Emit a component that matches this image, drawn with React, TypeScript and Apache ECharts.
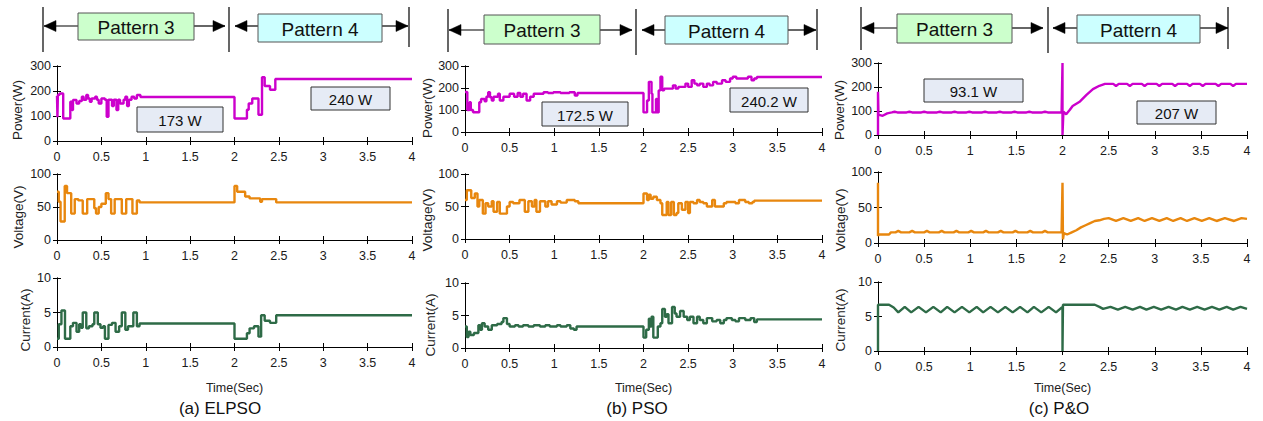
import React, { useEffect, useRef } from "react";
import * as echarts from "echarts";

type P = [number, number];

// ---------- (a) ELPSO ----------
const elpsoPower: P[] = [
  [0, 180], [0.005, 95], [0.01, 185], [0.03, 190], [0.07, 90], [0.15, 157], [0.17, 124], [0.18, 164],
  [0.22, 150], [0.25, 160], [0.28, 177], [0.3, 165], [0.33, 184], [0.35, 170], [0.37, 157], [0.39, 170],
  [0.43, 177], [0.45, 165], [0.47, 150], [0.5, 170], [0.54, 165], [0.56, 97], [0.58, 165], [0.62, 140],
  [0.64, 165], [0.67, 124], [0.69, 165], [0.71, 150], [0.75, 165], [0.77, 177], [0.79, 140], [0.81, 165],
  [0.84, 177], [0.87, 170], [0.9, 184], [0.94, 176], [2.0, 90], [2.14, 125], [2.16, 150], [2.2, 170],
  [2.27, 105], [2.31, 255], [2.34, 220], [2.4, 205], [2.46, 248], [4, 248],
];
const elpsoVoltage: P[] = [
  [0, 73], [0.02, 58], [0.04, 28], [0.087, 82], [0.113, 71], [0.16, 40], [0.2, 62], [0.24, 60], [0.29, 40],
  [0.34, 62], [0.42, 48], [0.44, 40], [0.47, 50], [0.5, 55], [0.55, 71], [0.58, 62], [0.61, 40], [0.65, 62],
  [0.73, 40], [0.78, 62], [0.85, 40], [0.9, 60], [0.93, 57], [2.0, 82], [2.03, 73], [2.12, 66], [2.17, 63],
  [2.29, 58], [2.31, 62], [2.47, 57], [4, 57],
];
const elpsoCurrent: P[] = [
  [0, 1.2], [0.02, 3.3], [0.05, 5.3], [0.09, 1.2], [0.15, 3], [0.18, 3.5], [0.22, 2.2], [0.25, 3.3],
  [0.27, 2.8], [0.29, 5], [0.33, 2.7], [0.36, 3], [0.4, 3.3], [0.42, 5], [0.46, 3.3], [0.49, 2.8], [0.52, 3],
  [0.54, 1.2], [0.58, 3.2], [0.62, 3.5], [0.66, 2.2], [0.7, 3], [0.73, 5], [0.77, 2.5], [0.8, 3], [0.86, 5],
  [0.9, 3], [0.93, 3.4], [2.0, 1.2], [2.14, 2], [2.17, 2.7], [2.22, 3], [2.27, 1.5], [2.3, 4.6], [2.34, 3.8],
  [2.4, 3.5], [2.47, 4.6], [4, 4.6],
];

// ---------- (b) PSO ----------
const psoPower: P[] = [
  [0, 182], [0.026, 100], [0.05, 135], [0.065, 100], [0.09, 90], [0.16, 135], [0.18, 150], [0.22, 140],
  [0.24, 160], [0.26, 181], [0.28, 158], [0.3, 143], [0.32, 160], [0.37, 174], [0.39, 143], [0.43, 160],
  [0.5, 174], [0.55, 160], [0.59, 177], [0.62, 160], [0.65, 174], [0.69, 143], [0.73, 160], [0.77, 174],
  [0.83, 174], [0.88, 181], [0.93, 177], [0.99, 181], [1.07, 177], [1.17, 181], [1.23, 166], [1.26, 177],
  [2.0, 89], [2.04, 143], [2.06, 228], [2.09, 174], [2.1, 89], [2.14, 150], [2.15, 89], [2.17, 189],
  [2.19, 251], [2.21, 189], [2.23, 197], [2.33, 212], [2.36, 197], [2.39, 205], [2.43, 205], [2.47, 220],
  [2.5, 205], [2.54, 235], [2.57, 220], [2.6, 212], [2.63, 220], [2.67, 205], [2.71, 220], [2.74, 212],
  [2.78, 228], [2.82, 220], [2.88, 235], [2.92, 228], [2.97, 243], [3.0, 251], [3.04, 243], [3.1, 243],
  [3.17, 251], [3.21, 235], [3.24, 243], [3.27, 250], [4, 250],
];
const psoVoltage: P[] = [
  [0, 60], [0.02, 75], [0.07, 63], [0.11, 70], [0.14, 50], [0.16, 60], [0.2, 39], [0.23, 55], [0.26, 50],
  [0.3, 58], [0.32, 42], [0.36, 57], [0.39, 39], [0.47, 50], [0.5, 57], [0.54, 55], [0.61, 60], [0.67, 42],
  [0.71, 58], [0.75, 50], [0.78, 60], [0.8, 42], [0.84, 58], [0.9, 50], [0.93, 58], [0.97, 53], [1.03, 58],
  [1.07, 56], [1.14, 60], [1.23, 58], [1.27, 55], [2.0, 70], [2.04, 60], [2.06, 68], [2.08, 62], [2.11, 65],
  [2.15, 60], [2.19, 55], [2.21, 37], [2.26, 57], [2.28, 37], [2.31, 57], [2.34, 37], [2.37, 40], [2.39, 55],
  [2.43, 45], [2.47, 57], [2.5, 40], [2.52, 57], [2.56, 55], [2.6, 60], [2.63, 57], [2.67, 55], [2.71, 50],
  [2.77, 60], [2.8, 50], [2.84, 50], [2.9, 55], [2.93, 57], [2.99, 57], [3.03, 55], [3.07, 60], [3.14, 57],
  [3.18, 55], [3.22, 57], [3.24, 59], [4, 59],
];
const psoCurrent: P[] = [
  [0, 3.3], [0.02, 1.7], [0.04, 2.5], [0.06, 2.0], [0.1, 2.3], [0.15, 3.5], [0.17, 2.8], [0.19, 3.8],
  [0.22, 3.3], [0.26, 2.8], [0.3, 3.5], [0.36, 3.7], [0.41, 4.0], [0.43, 4.6], [0.47, 3.7], [0.5, 3.3],
  [0.56, 3.5], [0.6, 3.3], [0.65, 3.5], [0.71, 3.3], [0.77, 3.5], [0.84, 3.3], [0.9, 3.5], [0.95, 3.3],
  [1.03, 3.5], [1.07, 3.3], [1.14, 3.5], [1.18, 3.0], [1.22, 2.8], [1.25, 3.3], [2.0, 1.6], [2.03, 2.8],
  [2.06, 4.5], [2.07, 3.3], [2.09, 4.8], [2.11, 1.6], [2.16, 3.3], [2.19, 3.8], [2.21, 6.0], [2.24, 4.8],
  [2.26, 5.2], [2.28, 3.8], [2.32, 6.3], [2.35, 5.3], [2.37, 4.8], [2.41, 5.7], [2.45, 4.8], [2.49, 4.3],
  [2.52, 4.8], [2.56, 3.8], [2.6, 4.8], [2.63, 4.3], [2.67, 3.8], [2.71, 4.6], [2.77, 4.1], [2.82, 4.3],
  [2.86, 3.8], [2.9, 4.3], [2.93, 4.6], [2.99, 4.3], [3.03, 4.1], [3.07, 4.6], [3.14, 4.3], [3.2, 4.6],
  [3.24, 4.0], [3.27, 4.4], [4, 4.4],
];

// ---------- (c) P&O ----------
const poPower: P[] = [
  [0, 0], [0, 180], [0.005, 85], [0.05, 80], [0.1, 90], [0.15, 94], [0.18, 97], [0.21, 94], [0.31, 94],
  [0.34, 97], [0.37, 94], [0.47, 94], [0.5, 97], [0.53, 94], [0.64, 94], [0.67, 97], [0.7, 94], [0.8, 94],
  [0.83, 97], [0.86, 94], [0.96, 94], [0.99, 97], [1.02, 94], [1.13, 94], [1.16, 97], [1.19, 94], [1.29, 94],
  [1.32, 97], [1.35, 94], [1.45, 94], [1.48, 97], [1.51, 94], [1.61, 94], [1.64, 97], [1.67, 94], [1.78, 94],
  [1.81, 97], [1.84, 94], [1.99, 94], [2.0, 300], [2.0, 0], [2.01, 98], [2.04, 86], [2.08, 105], [2.11, 121],
  [2.19, 140], [2.26, 167], [2.33, 191], [2.4, 205], [2.46, 213], [2.55, 213], [2.58, 204], [2.61, 213],
  [2.7, 213], [2.73, 204], [2.76, 213], [2.86, 213], [2.89, 204], [2.92, 213], [3.02, 213], [3.05, 204],
  [3.08, 213], [3.19, 213], [3.22, 204], [3.25, 213], [3.35, 213], [3.38, 204], [3.41, 213], [3.49, 213],
  [3.52, 204], [3.55, 213], [3.66, 213], [3.69, 204], [3.72, 213], [3.82, 213], [3.85, 204], [3.88, 213],
  [4, 213],
];
const poVoltage: P[] = [
  [0, 85], [0, 10], [0.01, 12], [0.12, 12], [0.14, 15], [0.19, 15], [0.22, 17], [0.25, 15], [0.34, 15],
  [0.37, 17], [0.4, 15], [0.5, 15], [0.53, 17], [0.56, 15], [0.66, 15], [0.69, 17], [0.72, 15], [0.82, 15],
  [0.85, 17], [0.88, 15], [0.98, 15], [1.01, 17], [1.04, 15], [1.14, 15], [1.17, 17], [1.2, 15], [1.3, 15],
  [1.33, 17], [1.36, 15], [1.46, 15], [1.49, 17], [1.52, 15], [1.62, 15], [1.65, 17], [1.68, 15], [1.78, 15],
  [1.81, 17], [1.84, 15], [1.99, 15], [2.0, 85], [2.005, 5], [2.015, 14], [2.05, 12], [2.1, 15], [2.15, 18],
  [2.2, 22], [2.25, 25], [2.3, 28], [2.35, 31], [2.4, 32], [2.45, 34], [2.5, 35], [2.58, 31], [2.66, 35],
  [2.74, 31], [2.82, 35], [2.89, 31], [2.97, 35], [3.05, 31], [3.13, 35], [3.2, 31], [3.28, 35], [3.35, 31],
  [3.43, 35], [3.51, 31], [3.59, 35], [3.67, 31], [3.76, 35], [3.86, 31], [3.94, 35], [4, 34],
];
const poCurrent: P[] = [
  [0, 0], [0, 6.7], [0.12, 6.7], [0.17, 6.3], [0.22, 5.6], [0.29, 6.4], [0.36, 5.6], [0.44, 6.4], [0.52, 5.6],
  [0.6, 6.4], [0.68, 5.6], [0.75, 6.4], [0.83, 5.6], [0.91, 6.4], [0.99, 5.6], [1.07, 6.4], [1.14, 5.6],
  [1.22, 6.4], [1.3, 5.6], [1.38, 6.4], [1.46, 5.6], [1.54, 6.4], [1.62, 5.6], [1.69, 6.4], [1.77, 5.6],
  [1.85, 6.4], [1.93, 5.6], [1.99, 6.3], [2.0, 6.3], [2.0, 0], [2.005, 6.7], [2.35, 6.7], [2.4, 6.4],
  [2.44, 6.1], [2.52, 6.4], [2.6, 6.0], [2.68, 6.4], [2.76, 6.0], [2.84, 6.4], [2.91, 6.0], [2.99, 6.4],
  [3.07, 6.0], [3.15, 6.4], [3.23, 6.0], [3.3, 6.4], [3.38, 6.0], [3.46, 6.4], [3.54, 6.0], [3.62, 6.4],
  [3.7, 6.0], [3.78, 6.4], [3.85, 6.0], [3.93, 6.4], [4, 6.1],
];

const quantityNames = ["Power(W)", "Voltage(V)", "Current(A)"];
const quantityMax = [300, 100, 10];
const quantityStep = [100, 50, 5];
const timeMax = 4;
const timeStep = 0.5;
const panelCaptions = ["(a) ELPSO", "(b) PSO", "(c) P&O"];
const patternLabels = ["Pattern 3", "Pattern 4"];
const annotations = [
  ["173 W", "240 W"],
  ["172.5 W", "240.2 W"],
  ["93.1 W", "207 W"],
];

const FONT = "'Liberation Sans', Arial, sans-serif";
const lineColors = ["#cc00cc", "#e8870e", "#2e6b47"];

const layout = [
  {
    left: 57, width: 355, tops: [66, 174, 278], heights: [75, 66, 69], step: true,
    data: [elpsoPower, elpsoVoltage, elpsoCurrent],
    yName: [[17, 110], [18, 217], [25, 320]],
    header: { L: 43, M: 229, R: 409, lt: [7, 7, 7], lb: [52, 52, 47], Y: 26, tips: [44, 225, 235, 408],
      b3: [78, 13, 116, 27], b4: [258, 14, 124, 28] },
    ann: [[137, 107, 86, 25], [311, 87, 79, 23]],
    timeY: 388, capY: 408, capX: 220,
  },
  {
    left: 465, width: 357, tops: [66, 174, 283], heights: [66, 65, 65], step: true,
    data: [psoPower, psoVoltage, psoCurrent],
    yName: [[427, 108], [427, 220], [430, 325]],
    header: { L: 448, M: 636, R: 817, lt: [9, 9, 9], lb: [52, 55, 50], Y: 30, tips: [449, 632, 642, 816],
      b3: [484, 15, 116, 29], b4: [665, 16, 123, 28] },
    ann: [[542, 102, 86, 24], [730, 88, 78, 24]],
    timeY: 388, capY: 408, capX: 637,
  },
  {
    left: 878, width: 369, tops: [63, 172, 282], heights: [72, 71, 69], step: false,
    data: [poPower, poVoltage, poCurrent],
    yName: [[839, 110], [840, 220], [840, 320]],
    header: { L: 861, M: 1048, R: 1228, lt: [7, 7, 7], lb: [50, 53, 49], Y: 28, tips: [862, 1043, 1053, 1228],
      b3: [897, 14, 115, 29], b4: [1077, 15, 123, 28] },
    ann: [[924, 79, 99, 23], [1137, 101, 79, 23]],
    timeY: 388, capY: 408, capX: 1059,
  },
];

function buildOption() {
  const grid: any[] = [];
  const xAxis: any[] = [];
  const yAxis: any[] = [];
  const series: any[] = [];
  const graphic: any[] = [];

  const axisLine = { show: true, lineStyle: { color: "#000", width: 1 } };
  const tick = { show: true, inside: true, length: 4, lineStyle: { color: "#000", width: 1 } };

  layout.forEach((pl, c) => {
    for (let r = 0; r < 3; r++) {
      const gi = grid.length;
      grid.push({
        left: pl.left, top: pl.tops[r], width: pl.width, height: pl.heights[r],
        containLabel: false, outerBoundsMode: "none",
      });
      const xb = xAxis.length;
      xAxis.push({
        type: "value", gridIndex: gi, min: 0, max: timeMax, interval: timeStep, position: "bottom",
        axisLine, axisTick: tick, splitLine: { show: false },
        axisLabel: { show: true, margin: 9, color: "#1a1a1a", fontSize: 12.5, fontFamily: FONT },
      });
      xAxis.push({
        type: "value", gridIndex: gi, min: 0, max: timeMax, interval: timeStep, position: "top",
        axisLine, axisTick: tick, splitLine: { show: false }, axisLabel: { show: false },
      });
      const yb = yAxis.length;
      yAxis.push({
        type: "value", gridIndex: gi, min: 0, max: quantityMax[r], interval: quantityStep[r], position: "left",
        axisLine, axisTick: tick, splitLine: { show: false },
        axisLabel: { show: true, margin: 6, color: "#1a1a1a", fontSize: 12.5, fontFamily: FONT },
      });
      yAxis.push({
        type: "value", gridIndex: gi, min: 0, max: quantityMax[r], interval: quantityStep[r], position: "right",
        axisLine, axisTick: tick, splitLine: { show: false }, axisLabel: { show: false },
      });
      series.push({
        type: "line", xAxisIndex: xb, yAxisIndex: yb, data: pl.data[r],
        step: pl.step ? "end" : false, showSymbol: false, symbol: "none",
        lineStyle: { color: lineColors[r], width: 2.4 }, z: 3, silent: true,
      });
      graphic.push({
        type: "text", x: pl.yName[r][0], y: pl.yName[r][1], rotation: Math.PI / 2,
        style: { text: quantityNames[r], fontSize: 13.5, fill: "#222", fontFamily: FONT, align: "center", verticalAlign: "middle" },
      });
    }

    // Time label & caption
    graphic.push({
      type: "text", x: pl.left + pl.width / 2, y: pl.timeY,
      style: { text: "Time(Sec)", fontSize: 12.5, fill: "#222", fontFamily: FONT, align: "center", verticalAlign: "middle" },
    });
    graphic.push({
      type: "text", x: pl.capX, y: pl.capY,
      style: { text: panelCaptions[c], fontSize: 17, fill: "#111", fontFamily: FONT, align: "center", verticalAlign: "middle" },
    });

    // header with arrows and pattern boxes
    const h = pl.header;
    const vx = [h.L, h.M, h.R];
    vx.forEach((x, i) => {
      graphic.push({ type: "line", shape: { x1: x, y1: h.lt[i], x2: x, y2: h.lb[i] }, style: { stroke: "#000", lineWidth: 1.2 } });
    });
    const segs: [number, number][] = [
      [h.tips[0], h.b3[0]], [h.b3[0] + h.b3[2], h.tips[1]],
      [h.tips[2], h.b4[0]], [h.b4[0] + h.b4[2], h.tips[3]],
    ];
    segs.forEach(([a, b]) => {
      graphic.push({ type: "line", shape: { x1: a, y1: h.Y, x2: b, y2: h.Y }, style: { stroke: "#000", lineWidth: 1.2 } });
    });
    const heads: [number, number][] = [[h.tips[0], 1], [h.tips[1], -1], [h.tips[2], 1], [h.tips[3], -1]];
    heads.forEach(([t, d]) => {
      graphic.push({
        type: "polygon",
        shape: { points: [[t, h.Y], [t + d * 12, h.Y - 5.5], [t + d * 12, h.Y + 5.5]] },
        style: { fill: "#000", stroke: "#000", lineWidth: 0.5 },
      });
    });
    const boxes = [h.b3, h.b4];
    const fills = ["#ccffcc", "#ccffff"];
    boxes.forEach((b, i) => {
      graphic.push({
        type: "rect", shape: { x: b[0], y: b[1], width: b[2], height: b[3] },
        style: { fill: fills[i], stroke: "#555", lineWidth: 1 },
      });
      graphic.push({
        type: "text", x: b[0] + b[2] / 2, y: b[1] + b[3] / 2 + 1,
        style: { text: patternLabels[i], fontSize: 19, fill: "#111", fontFamily: FONT, align: "center", verticalAlign: "middle" },
      });
    });

    // annotation boxes
    pl.ann.forEach((b, i) => {
      graphic.push({
        type: "rect", z: 10, shape: { x: b[0], y: b[1], width: b[2], height: b[3] },
        style: { fill: "#e6ebf5", stroke: "#333", lineWidth: 1 },
      });
      graphic.push({
        type: "text", z: 11, x: b[0] + b[2] / 2, y: b[1] + b[3] / 2 + 1,
        style: { text: annotations[c][i], fontSize: 15, fill: "#111", fontFamily: FONT, align: "center", verticalAlign: "middle" },
      });
    });
  });

  return {
    animation: false,
    backgroundColor: "#ffffff",
    grid, xAxis, yAxis, series, graphic,
  };
}

export default function App() {
  const ref = useRef<HTMLDivElement>(null);
  useEffect(() => {
    if (!ref.current) return;
    const chart = echarts.init(ref.current, undefined, { renderer: "svg" });
    chart.setOption(buildOption() as any);
    return () => chart.dispose();
  }, []);
  return (
    <div
      ref={ref}
      style={{ position: "absolute", left: 0, top: 0, width: 1263, height: 421, background: "#fff" }}
    />
  );
}
